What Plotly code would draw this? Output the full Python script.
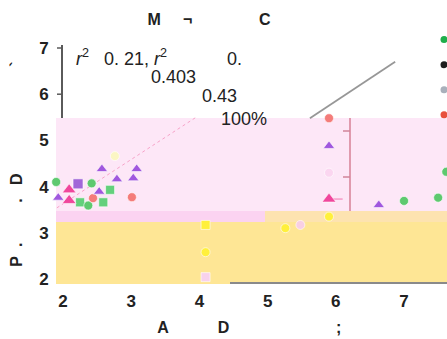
import plotly.graph_objects as go

# ---- data ----
x_ticks = [2, 3, 4, 5, 6, 7]
y_ticks = [2, 3, 4, 5, 6, 7]

purple_tri_x = [2.57, 3.08, 2.79, 3.03, 1.93, 2.53, 5.90, 6.63]
purple_tri_y = [4.38, 4.38, 4.16, 4.18, 3.76, 3.89, 4.88, 3.60]
purple_sq_x = [2.22]
purple_sq_y = [4.06]
pink_tri_x = [2.09, 2.09, 5.90]
pink_tri_y = [3.93, 3.70, 3.73]
green_sq_x = [2.25, 2.69, 2.59]
green_sq_y = [3.66, 3.93, 3.66]
green_circ_x = [2.42, 2.37, 1.90, 7.00, 7.50, 7.62]
green_circ_y = [4.07, 3.59, 4.10, 3.69, 3.76, 4.32]
salmon_x = [2.44, 3.01, 5.90]
salmon_y = [3.75, 3.77, 5.48]
yellow_x = [4.09, 4.09, 5.90, 5.26]
yellow_y = [3.17, 2.58, 3.35, 3.10]
yellow_sym = ["square", "circle", "circle", "circle"]
pale_x = [4.09, 5.48, 5.90, 2.76]
pale_y = [2.04, 3.17, 4.30, 4.66]
pale_col = ["#f8d2ec", "#f8cfe4", "#fbd6f0", "#fbf6c4"]
pale_sym = ["square", "circle", "circle", "circle"]

fit_x = [5.62, 6.87]
fit_y = [5.48, 6.70]
trend_x = [1.91, 3.94]
trend_y = [3.54, 5.49]

legend_names = ["Group A", "Group B", "Group C", "Group D"]
legend_colors = ["#1fae4b", "#1e1e1e", "#a9b0bb", "#e8503c"]

x_range = [1.897, 7.63]
y_range = [1.913, 7.065]

FONT = "Arial, Liberation Sans, sans-serif"
fig = go.Figure()

def add_pts(x, y, color, symbol, size=9, **kw):
    fig.add_trace(go.Scatter(
        x=x, y=y, mode="markers", showlegend=False, cliponaxis=False,
        marker=dict(color=color, symbol=symbol, size=size,
                    line=dict(color="rgba(255,255,255,0.6)", width=1)), **kw))

# lines
fig.add_trace(go.Scatter(x=trend_x, y=trend_y, mode="lines", showlegend=False,
                         line=dict(color="#f7a3c9", width=1, dash="dot")))
fig.add_trace(go.Scatter(x=fit_x, y=fit_y, mode="lines", showlegend=False,
                         line=dict(color="#979797", width=1.8)))

add_pts(pale_x, pale_y, pale_col, pale_sym, 9)
add_pts(yellow_x, yellow_y, "#fff03c", yellow_sym, 9)
add_pts(green_sq_x, green_sq_y, "#63d07c", "square", 9)
add_pts(green_circ_x, green_circ_y, "#5ec96f", "circle", 9)
add_pts(salmon_x, salmon_y, "#f47c7a", "circle", 9)
add_pts(purple_sq_x, purple_sq_y, "#a266d8", "square", 10)
add_pts(purple_tri_x, purple_tri_y, "#a057de", "triangle-up", 10)
fig.add_trace(go.Scatter(
    x=pink_tri_x, y=pink_tri_y, mode="markers", showlegend=False, cliponaxis=False,
    marker=dict(color="#f0469c", symbol="triangle-up", size=12,
                line=dict(color="rgba(255,255,255,0.6)", width=1)),
    error_x=dict(type="data", array=[0, 0, 0.2], arrayminus=[0, 0, 0],
                 color="#f59ac6", thickness=1.5, width=0)))

for name, col in zip(legend_names, legend_colors):
    fig.add_trace(go.Scatter(x=[None], y=[None], mode="markers", name=name,
                             marker=dict(color=col, size=7)))

# window-pixel -> paper helpers
def px2px(p):
    return (p - 56) / 391.0

def py2py(p):
    return (283 - p) / 238.0

shapes = [
    dict(type="rect", xref="paper", yref="paper", x0=px2px(56), x1=1.0,
         y0=py2py(211), y1=py2py(118), fillcolor="#fde7f7", line_width=0, layer="below"),
    dict(type="rect", xref="paper", yref="paper", x0=px2px(56), x1=px2px(265),
         y0=py2py(222), y1=py2py(211), fillcolor="#fbd3f1", line_width=0, layer="below"),
    dict(type="rect", xref="paper", yref="paper", x0=px2px(265), x1=1.0,
         y0=py2py(222), y1=py2py(211), fillcolor="#fde3b0", line_width=0, layer="below"),
    dict(type="rect", xref="paper", yref="paper", x0=px2px(56), x1=1.0,
         y0=py2py(284), y1=py2py(222), fillcolor="#fee695", line_width=0, layer="below"),
    # y axis line (visible part)
    dict(type="line", xref="paper", yref="paper", x0=px2px(62), x1=px2px(62),
         y0=py2py(118), y1=1.0, line=dict(color="#5a5a5a", width=2)),
    # x axis line (visible part)
    dict(type="line", xref="paper", yref="paper", x0=px2px(230), x1=1.0,
         y0=py2py(283), y1=py2py(283), line=dict(color="#8a8a8a", width=2)),
    # pink vertical line with ticks
    dict(type="line", xref="paper", yref="paper", x0=px2px(350), x1=px2px(350),
         y0=py2py(211), y1=py2py(118), line=dict(color="#e09aae", width=2)),
    dict(type="line", xref="paper", yref="paper", x0=px2px(343), x1=px2px(350),
         y0=py2py(131), y1=py2py(131), line=dict(color="#d0849a", width=1.5)),
    dict(type="line", xref="paper", yref="paper", x0=px2px(343), x1=px2px(350),
         y0=py2py(177), y1=py2py(177), line=dict(color="#d0849a", width=1.5)),
]
for t in y_ticks[-2:]:
    shapes.append(dict(type="line", xref="paper", yref="y", x0=px2px(57), x1=px2px(62),
                       y0=t, y1=t, line=dict(color="#5a5a5a", width=1.5)))

NB = "\u00a0"
annotations = [
    dict(text="<i>r</i><sup>2</sup>" + NB * 3 + "0." + NB + "21," + NB + "<i>r</i><sup>2</sup>" + NB * 12 + "0.",
         xref="paper", yref="paper", x=px2px(74), y=py2py(57), xanchor="left", yanchor="middle",
         showarrow=False, font=dict(size=18, color="#222")),
    dict(text="0.403", xref="paper", yref="paper", x=px2px(149), y=py2py(77),
         xanchor="left", yanchor="middle", showarrow=False, font=dict(size=18, color="#222")),
    dict(text="0.43", xref="paper", yref="paper", x=px2px(200), y=py2py(96),
         xanchor="left", yanchor="middle", showarrow=False, font=dict(size=18, color="#222")),
    dict(text="100%", xref="paper", yref="paper", x=px2px(219), y=py2py(119),
         xanchor="left", yanchor="middle", showarrow=False, font=dict(size=18, color="#222")),
]

fig.update_layout(
    width=447, height=339,
    margin=dict(l=56, r=0, t=45, b=56, autoexpand=False),
    paper_bgcolor="white", plot_bgcolor="white",
    font=dict(family=FONT, color="#222"),
    title=dict(text="<b>M" + NB * 5 + "¬" + NB * 15 + "C</b>", x=209 / 447, xanchor="center",
               y=1 - 19 / 339, yanchor="middle", font=dict(size=16, color="#222")),
    xaxis=dict(range=x_range, tickvals=x_ticks, ticktext=[str(v) for v in x_ticks],
               showgrid=False, zeroline=False, showline=False,
               ticks="outside", ticklen=3, tickcolor="rgba(0,0,0,0)",
               tickfont=dict(size=17, family=FONT, color="#222", weight="bold"),
               title=dict(text="<b>A" + NB * 11 + "D" + NB * 24 + ";" + NB + "</b>",
                          font=dict(size=16, color="#222"), standoff=11)),
    yaxis=dict(range=y_range, tickvals=y_ticks, ticktext=[str(v) for v in y_ticks],
               showgrid=False, zeroline=False, showline=False,
               ticks="outside", ticklen=3, tickcolor="rgba(0,0,0,0)",
               tickfont=dict(size=17, family=FONT, color="#222", weight="bold"),
               title=dict(text="<b>P" + NB * 2 + "." + NB * 9 + "." + NB * 3 + "D" + NB * 24 + "`</b>",
                          font=dict(size=16, color="#222"), standoff=12)),
    legend=dict(x=px2px(424), y=py2py(22), xanchor="left", yanchor="top",
                bgcolor="rgba(0,0,0,0)", font=dict(size=17, color="#222")),
    shapes=shapes,
    annotations=annotations,
)

fig.write_html("out.html", config={"displayModeBar": False},
               post_script="document.body.style.margin='0';document.body.style.overflow='hidden';")
